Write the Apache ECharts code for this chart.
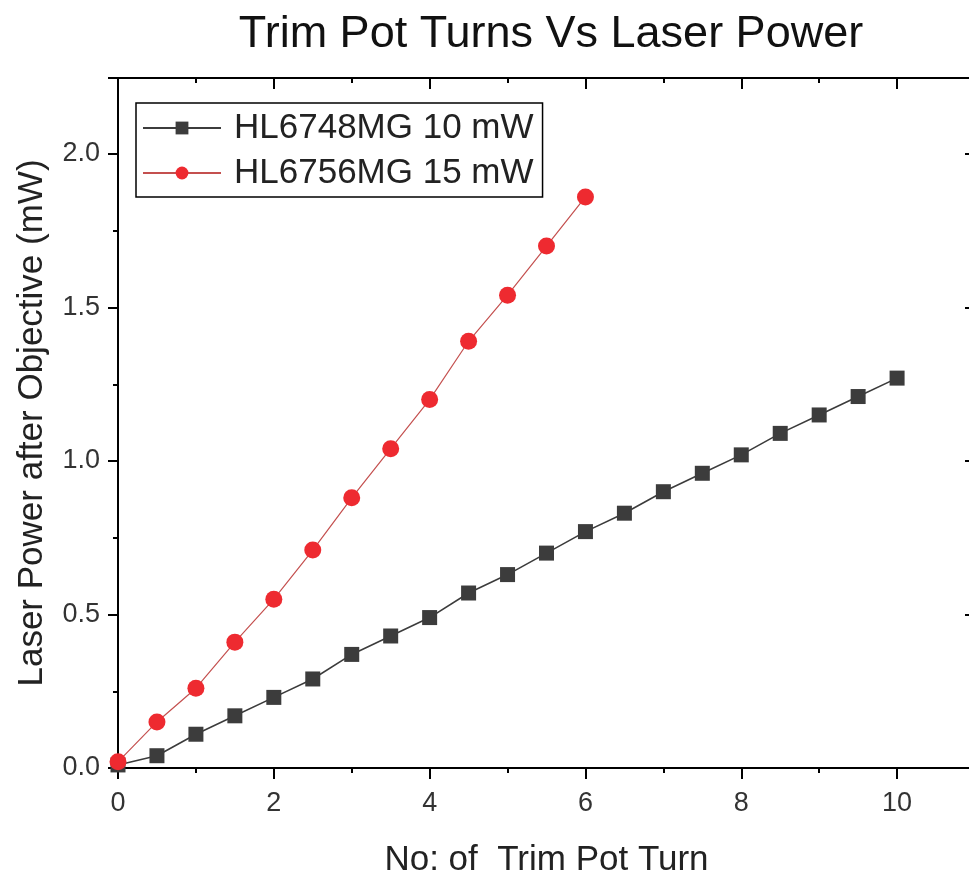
<!DOCTYPE html>
<html>
<head>
<meta charset="utf-8">
<script src="https://cdn.jsdelivr.net/npm/echarts@6/dist/echarts.min.js"></script>
<style>
  html, body { margin: 0; padding: 0; background: #fff; }
  #chart { width: 969px; height: 875px; }
</style>
</head>
<body>
<div id="chart"></div>
<script>
// Trim pot turns (x) and measured laser power after the objective (mW)
const turnsA = [0, 0.5, 1, 1.5, 2, 2.5, 3, 3.5, 4, 4.5, 5, 5.5, 6, 6.5, 7, 7.5, 8, 8.5, 9, 9.5, 10];
const powerA = [0.01, 0.04, 0.11, 0.17, 0.23, 0.29, 0.37, 0.43, 0.49, 0.57, 0.63, 0.70, 0.77, 0.83, 0.90, 0.96, 1.02, 1.09, 1.15, 1.21, 1.27];

const turnsB = [0, 0.5, 1, 1.5, 2, 2.5, 3, 3.5, 4, 4.5, 5, 5.5, 6];
const powerB = [0.02, 0.15, 0.26, 0.41, 0.55, 0.71, 0.88, 1.04, 1.20, 1.39, 1.54, 1.70, 1.86];

const seriesNames = ['HL6748MG 10 mW', 'HL6756MG 15 mW'];
const chartTitle = 'Trim Pot Turns Vs Laser Power';
const xName = 'No: of  Trim Pot Turn';
const yName = 'Laser Power after Objective (mW)';

const pairs = (xs, ys) => xs.map((x, i) => [x, ys[i]]);

const font = 'Liberation Sans, Arial, sans-serif';
const axisLine = { show: true, onZero: false, lineStyle: { color: '#000', width: 2 } };
const tickStyle = { color: '#000', width: 2 };

const chart = echarts.init(document.getElementById('chart'), null, { renderer: 'canvas' });

chart.setOption({
  backgroundColor: '#fff',
  animation: false,
  title: {
    text: chartTitle,
    left: 546,
    top: 7,
    textAlign: 'center',
    textStyle: { fontFamily: font, fontSize: 45, fontWeight: 'normal', color: '#111' }
  },
  legend: {
    orient: 'vertical',
    left: 136,
    top: 103,
    data: seriesNames,
    itemWidth: 78,
    itemHeight: 16,
    itemGap: 5,
    padding: [5, 9, 4, 6],
    borderColor: '#000',
    borderWidth: 1.5,
    textStyle: { fontFamily: font, fontSize: 35, color: '#222', lineHeight: 40, padding: [0, 0, 0, 8] }
  },
  grid: {
    left: 118, top: 78, width: 857, height: 690,
    containLabel: false, outerBoundsMode: 'none'
  },
  xAxis: [
    {
      type: 'value', position: 'bottom', min: 0, max: 11, interval: 2,
      name: xName, nameLocation: 'middle', nameGap: 75,
      nameTextStyle: { fontFamily: font, fontSize: 35, color: '#222' },
      axisLine: axisLine,
      axisTick: { show: true, inside: false, length: 11, lineStyle: tickStyle },
      minorTick: { show: true, splitNumber: 2, length: 5, lineStyle: tickStyle },
      axisLabel: {
        fontFamily: font, fontSize: 27, color: '#333', margin: 22,
        formatter: v => (v > 10 ? '' : String(v))
      },
      splitLine: { show: false }
    },
    {
      type: 'value', position: 'top', min: 0, max: 11, interval: 2,
      axisLine: axisLine,
      axisTick: { show: true, inside: true, length: 11, lineStyle: tickStyle },
      minorTick: { show: true, splitNumber: 2, length: 5, lineStyle: tickStyle },
      axisLabel: { show: false },
      splitLine: { show: false }
    }
  ],
  yAxis: [
    {
      type: 'value', position: 'left', min: 0, max: 2.2476, interval: 0.5,
      name: yName, nameLocation: 'middle', nameGap: 68,
      nameTextStyle: { fontFamily: font, fontSize: 35, color: '#222' },
      axisLine: axisLine,
      axisTick: { show: true, inside: false, length: 10, lineStyle: tickStyle },
      minorTick: { show: true, splitNumber: 2, length: 5, lineStyle: tickStyle },
      axisLabel: {
        fontFamily: font, fontSize: 27, color: '#333', margin: 18,
        formatter: v => (v > 2.01 ? '' : v.toFixed(1))
      },
      splitLine: { show: false }
    },
    {
      type: 'value', position: 'right', min: 0, max: 2.2476, interval: 0.5,
      axisLine: axisLine,
      axisTick: { show: true, inside: true, length: 10, lineStyle: tickStyle },
      minorTick: { show: true, splitNumber: 2, length: 5, lineStyle: tickStyle },
      axisLabel: { show: false },
      splitLine: { show: false }
    }
  ],
  series: [
    {
      name: seriesNames[0],
      type: 'line',
      data: pairs(turnsA, powerA),
      symbol: 'rect',
      symbolSize: 15,
      itemStyle: { color: '#3c3c3c' },
      lineStyle: { color: '#3c3c3c', width: 1.6 },
      z: 2
    },
    {
      name: seriesNames[1],
      type: 'line',
      data: pairs(turnsB, powerB),
      symbol: 'circle',
      symbolSize: 17,
      itemStyle: { color: '#ee2a30' },
      lineStyle: { color: '#c4504f', width: 1.2 },
      z: 3
    }
  ]
});
</script>
</body>
</html>
